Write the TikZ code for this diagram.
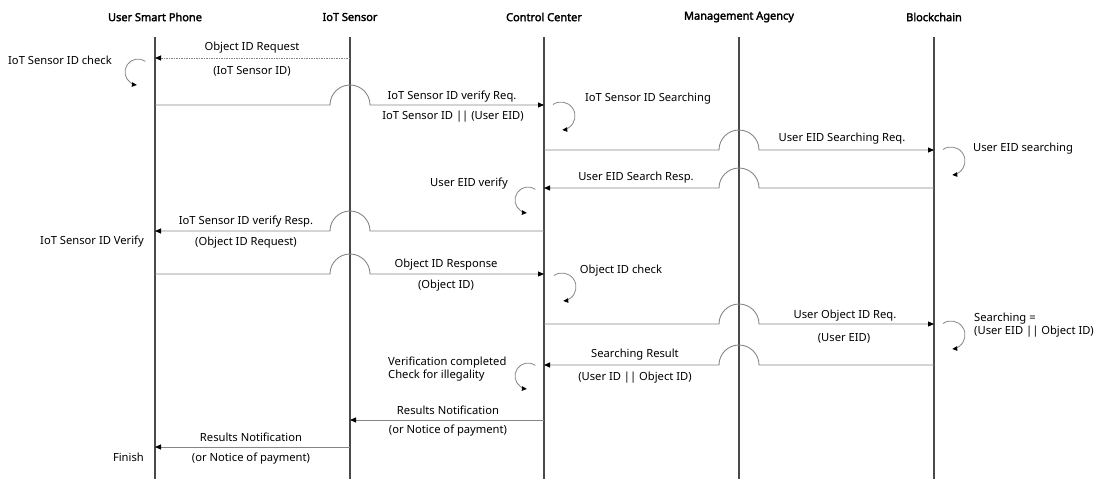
\documentclass[tikz,border=0pt]{standalone}
\usepackage{fontspec}
\setmainfont{Noto Sans}[AutoFakeBold=2.5]
\usetikzlibrary{arrows.meta,calc}
\definecolor{lifeC}{HTML}{4A4A4A}
\definecolor{msgC}{HTML}{858585}
\begin{document}
\begin{tikzpicture}[x=1pt,y=1pt,
  head/.style={font=\bfseries\fontsize{11}{13}\selectfont, inner sep=0pt},
  lbl/.style={font=\fontsize{11.2}{13.5}\selectfont, inner sep=0pt},
  life/.style={draw=lifeC, line width=1.4pt},
  msg/.style={draw=msgC, line width=0.9pt, -{Triangle[length=6pt,width=5pt,color=black]}},
  dmsg/.style={msg, dash pattern=on 1.5pt off 1pt},
  selfloop/.style={draw=msgC, line width=0.8pt, -{Triangle[length=5pt,width=4.5pt,color=black]}}]
\useasboundingbox (0,0) rectangle (1100,-479);

% headers
\node[head] (hP) at (155,-17) {User Smart Phone};
\node[head] (hS) at (350,-17) {IoT Sensor};
\node[head] (hC) at (544,-17) {Control Center};
\node[head] (hM) at (739,-17) {Management Agency};
\node[head] (hB) at (934,-17) {Blockchain};

% lifelines
\foreach \n/\x in {P/155,S/350,C/544,M/739,B/934}{
  \coordinate (\n top) at (\x,-37);
  \coordinate (\n bot) at (\x,-479);
  \draw[life] (\n top) -- (\n bot);
}

% message 1
\coordinate (s1) at (350,-58); \coordinate (p1) at (155,-58);
\draw[dmsg] (s1) -- (p1);
\node[lbl] (t1a) at (252,-48) {Object ID Request};
\node[lbl] (t1b) at (252,-71) {(IoT Sensor ID)};
\node[lbl] (n1) at (60,-60) {IoT Sensor ID check};
\coordinate (L1) at (138,-72);
\draw[selfloop] ($(L1)+(55:13)$) arc[start angle=55,end angle=265,radius=13];

% message 2
\coordinate (p2) at (155,-105); \coordinate (c2) at (544,-105);
\draw[msg] (p2) -- (330,-105) arc[start angle=180,end angle=0,radius=20] -- (c2);
\node[lbl] (t2a) at (452,-97) {IoT Sensor ID verify Req.};
\node[lbl] (t2b) at (453,-117) {IoT Sensor ID || (User EID)};
\node[lbl] (n2) at (648,-99) {IoT Sensor ID Searching};
\coordinate (L2) at (561,-116);
\draw[selfloop] ($(L2)+(125:14)$) arc[start angle=125,end angle=-85,radius=14];

% message 3
\coordinate (c3) at (544,-150); \coordinate (b3) at (934,-150);
\draw[msg] (c3) -- (719,-150) arc[start angle=180,end angle=0,radius=20] -- (b3);
\node[lbl] (t3a) at (842,-139) {User EID Searching Req.};
\node[lbl] (n3) at (1023,-149) {User EID searching};
\coordinate (L3) at (951,-161);
\draw[selfloop] ($(L3)+(125:14)$) arc[start angle=125,end angle=-85,radius=14];

% message 4
\coordinate (b4) at (934,-188); \coordinate (c4) at (544,-188);
\draw[msg] (b4) -- (759,-188) arc[start angle=0,end angle=180,radius=20] -- (c4);
\node[lbl] (t4a) at (636,-178) {User EID Search Resp.};
\node[lbl] (n4) at (469,-184) {User EID verify};
\coordinate (L4) at (528,-200);
\draw[selfloop] ($(L4)+(55:13)$) arc[start angle=55,end angle=265,radius=13];

% message 5
\coordinate (c5) at (544,-231); \coordinate (p5) at (155,-231);
\draw[msg] (c5) -- (370,-231) arc[start angle=0,end angle=180,radius=20] -- (p5);
\node[lbl] (t5a) at (246,-222) {IoT Sensor ID verify Resp.};
\node[lbl] (t5b) at (246,-243) {(Object ID Request)};
\node[lbl,anchor=east] (n5) at (144,-242) {IoT Sensor ID Verify};

% message 6
\coordinate (p6) at (155,-274); \coordinate (c6) at (544,-274);
\draw[msg] (p6) -- (330,-274) arc[start angle=180,end angle=0,radius=20] -- (c6);
\node[lbl] (t6a) at (446,-265) {Object ID Response};
\node[lbl] (t6b) at (446,-286) {(Object ID)};
\node[lbl] (n6) at (621,-271) {Object ID check};
\coordinate (L6) at (562,-287);
\draw[selfloop] ($(L6)+(125:14)$) arc[start angle=125,end angle=-85,radius=14];

% message 7
\coordinate (c7) at (544,-324); \coordinate (b7) at (934,-324);
\draw[msg] (c7) -- (719,-324) arc[start angle=180,end angle=0,radius=20] -- (b7);
\node[lbl] (t7a) at (845,-316) {User Object ID Req.};
\node[lbl] (t7b) at (844,-338) {(User EID)};
\node[lbl,anchor=west,align=left] (n7) at (974,-325) {Searching =\\(User EID || Object ID)};
\coordinate (L7) at (951,-335);
\draw[selfloop] ($(L7)+(125:14)$) arc[start angle=125,end angle=-85,radius=14];

% message 8
\coordinate (b8) at (934,-365); \coordinate (c8) at (544,-365);
\draw[msg] (b8) -- (759,-365) arc[start angle=0,end angle=180,radius=20] -- (c8);
\node[lbl] (t8a) at (635,-355) {Searching Result};
\node[lbl] (t8b) at (635,-378) {(User ID || Object ID)};
\node[lbl,anchor=west,align=left] (n8) at (388,-369) {Verification completed\\Check for illegality};
\coordinate (L8) at (528,-376);
\draw[selfloop] ($(L8)+(55:13)$) arc[start angle=55,end angle=265,radius=13];

% message 9
\coordinate (c9) at (544,-420); \coordinate (s9) at (350,-420);
\draw[msg] (c9) -- (s9);
\node[lbl] (t9a) at (448,-410) {Results Notification};
\node[lbl] (t9b) at (448,-431) {(or Notice of payment)};

% message 10
\coordinate (s10) at (350,-447); \coordinate (p10) at (155,-447);
\draw[msg] (s10) -- (p10);
\node[lbl] (t10a) at (251,-437) {Results Notification};
\node[lbl] (t10b) at (251,-459) {(or Notice of payment)};
\node[lbl,anchor=east] (n10) at (144,-457) {Finish};
\end{tikzpicture}
\end{document}
